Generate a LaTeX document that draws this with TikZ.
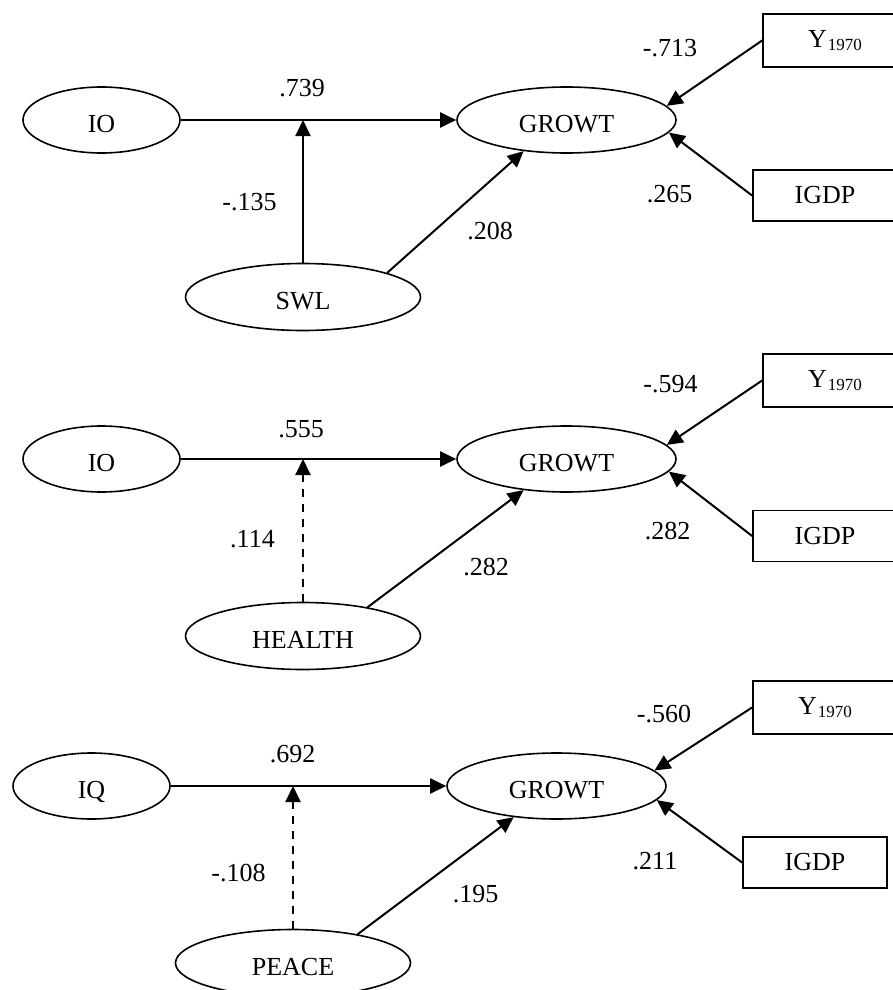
\documentclass[tikz,border=0pt]{standalone}
\usepackage{fontspec}
\setmainfont{Liberation Serif}
\usetikzlibrary{shapes.geometric,arrows.meta}
\newcommand\yyear{Y\kern1pt{\fontsize{17}{17}\selectfont\raisebox{-3pt}{1970}}}
\begin{document}
\begin{tikzpicture}[x=1pt,y=-1pt,
  font=\fontsize{26}{30}\selectfont,
  lat/.style={ellipse,draw,line width=1.6pt,inner sep=0pt,text height=24pt,text depth=0pt},
  obs/.style={rectangle,draw,line width=1.8pt,minimum width=144pt,inner sep=0pt},
  pth/.style={line width=2pt,-{Triangle[length=16pt,width=15pt]}},
  mod/.style={pth,dash pattern=on 8pt off 7pt},
  lbl/.style={inner sep=0pt}]
\useasboundingbox (0,0) rectangle (893,990);
\clip (0,0) rectangle (893,990);

% ---------- panel 1 ----------
\node[lat,minimum width=157pt,minimum height=66pt] (io1) at (101.5,120) {IO};
\node[lat,minimum width=219pt,minimum height=66pt] (g1) at (566.5,120) {GROWT};
\node[lat,minimum width=235pt,minimum height=67pt] (m1) at (303,297) {SWL};
\node[obs,minimum height=53pt] (y1) at (835,40.5) {\yyear};
\node[obs,minimum height=51pt] (i1) at (825,195.5) {IGDP};
\coordinate (c1) at (303,120);
\draw[pth] (io1.east) -- (g1.west);
\draw[pth] (m1.north) -- (c1);
\draw[pth] (m1.16) -- (g1.216);
\draw[pth] (y1.west) -- (g1.8);
\draw[pth] (i1.west) -- (g1.-7);
\node[lbl] (l11) at (302,88) {.739};
\node[lbl] (l12) at (249.5,202) {-.135};
\node[lbl] (l13) at (490,231.5) {.208};
\node[lbl] (l14) at (670,48.5) {-.713};
\node[lbl] (l15) at (669.5,194.5) {.265};

% ---------- panel 2 ----------
\node[lat,minimum width=157pt,minimum height=66pt] (io2) at (101.5,459) {IO};
\node[lat,minimum width=219pt,minimum height=66pt] (g2) at (566.5,459) {GROWT};
\node[lat,minimum width=235pt,minimum height=67pt] (m2) at (303,636) {HEALTH};
\node[obs,minimum height=53pt] (y2) at (835,380.5) {\yyear};
\node[obs,minimum height=51pt] (i2) at (825,536) {IGDP};
\coordinate (c2) at (303,459);
\draw[pth] (io2.east) -- (g2.west);
\draw[mod] (m2.north) -- (c2);
\draw[pth] (m2.24) -- (g2.216);
\draw[pth] (y2.west) -- (g2.8);
\draw[pth] (i2.west) -- (g2.-7);
\node[lbl] (l21) at (301,429) {.555};
\node[lbl] (l22) at (252.5,539.5) {.114};
\node[lbl] (l23) at (486,567.5) {.282};
\node[lbl] (l24) at (670.5,384) {-.594};
\node[lbl] (l25) at (667.5,531) {.282};

% ---------- panel 3 ----------
\node[lat,minimum width=157pt,minimum height=66pt] (io3) at (91.5,786) {IQ};
\node[lat,minimum width=219pt,minimum height=66pt] (g3) at (556.5,786) {GROWT};
\node[lat,minimum width=235pt,minimum height=67pt] (m3) at (293,963) {PEACE};
\node[obs,minimum height=53pt] (y3) at (825,707.5) {\yyear};
\node[obs,minimum height=51pt] (i3) at (815,862.5) {IGDP};
\coordinate (c3) at (293,786);
\draw[pth] (io3.east) -- (g3.west);
\draw[mod] (m3.north) -- (c3);
\draw[pth] (m3.24) -- (g3.216);
\draw[pth] (y3.west) -- (g3.9);
\draw[pth] (i3.west) -- (g3.-8);
\node[lbl] (l31) at (292.5,754) {.692};
\node[lbl] (l32) at (238.5,873) {-.108};
\node[lbl] (l33) at (475.5,894) {.195};
\node[lbl] (l34) at (664,714) {-.560};
\node[lbl] (l35) at (655,861) {.211};
\end{tikzpicture}
\end{document}
